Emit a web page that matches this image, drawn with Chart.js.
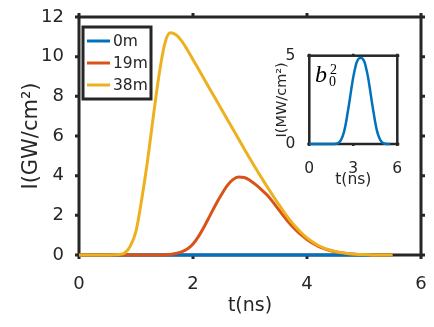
<!DOCTYPE html>
<html>
<head>
<meta charset="utf-8">
<script src="https://cdn.jsdelivr.net/npm/chart.js@4.4.0/dist/chart.umd.min.js"></script>
<style>
  html, body { margin: 0; padding: 0; background: #fff; }
  #wrap { position: relative; width: 434px; height: 327px; }
  #main { position: absolute; left: 0; top: 0; }
  #inset { position: absolute; left: 270px; top: 48px; }
</style>
</head>
<body>
<div id="wrap">
  <canvas id="main" width="434" height="327"></canvas>
  <canvas id="inset" width="140" height="142"></canvas>
</div>
<script>
// time axis, ns (same sampling for every curve)
const times = [0.0, 0.1, 0.2, 0.3, 0.4, 0.5, 0.6, 0.7, 0.8, 0.9,
  1.0, 1.1, 1.2, 1.3, 1.4, 1.5, 1.6, 1.7, 1.8, 1.9,
  2.0, 2.1, 2.2, 2.3, 2.4, 2.5, 2.6, 2.7, 2.8, 2.9,
  3.0, 3.1, 3.2, 3.3, 3.4, 3.5, 3.6, 3.7, 3.8, 3.9,
  4.0, 4.1, 4.2, 4.3, 4.4, 4.5, 4.6, 4.7, 4.8, 4.9,
  5.0, 5.1, 5.2, 5.3, 5.4, 5.5];

const seriesLabels = ['0m', '19m', '38m'];
const seriesColors = ['#0072BD', '#D95319', '#EDB120'];

// I (GW/cm^2)
const at0m = [0, 0, 0, 0, 0, 0, 0, 0, 0, 0,
  0, 0, 0, 0, 0, 0, 0, 0, 0, 0,
  0, 0, 0, 0, 0, 0, 0, 0, 0, 0,
  0, 0, 0, 0, 0, 0, 0, 0, 0, 0,
  0, 0, 0, 0, 0, 0, 0, 0, 0, 0,
  0, 0, 0, 0, 0, 0];
const at19m = [0, 0, 0, 0, 0, 0, 0, 0, 0, 0,
  0, 0, 0, 0, 0, 0.01, 0.03, 0.08, 0.16, 0.3,
  0.55, 0.95, 1.45, 2.0, 2.55, 3.05, 3.5, 3.8, 3.93, 3.91,
  3.76, 3.55, 3.3, 3.02, 2.68, 2.3, 1.93, 1.58, 1.28, 1.01,
  0.78, 0.59, 0.44, 0.32, 0.23, 0.16, 0.11, 0.07, 0.045, 0.03,
  0.02, 0.01, 0, 0, 0, 0];
const at38m = [0, 0, 0, 0, 0, 0, 0.01, 0.03, 0.1, 0.45,
  1.2, 2.8, 4.7, 6.9, 9.0, 10.6, 11.2, 11.1, 10.8, 10.35,
  9.85, 9.35, 8.85, 8.35, 7.85, 7.35, 6.85, 6.35, 5.85, 5.35,
  4.85, 4.37, 3.9, 3.45, 3.0, 2.57, 2.15, 1.76, 1.42, 1.12,
  0.86, 0.65, 0.48, 0.35, 0.25, 0.18, 0.12, 0.08, 0.05, 0.03,
  0.02, 0.01, 0, 0, 0, 0];

// inset: b0^2, I (MW/cm^2)
const b0sq = [0, 0, 0, 0, 0, 0, 0, 0, 0, 0,
  0, 0, 0, 0, 0, 0, 0, 0, 0.01, 0.03,
  0.07, 0.15, 0.3, 0.5, 0.8, 1.2, 1.7, 2.2, 2.75, 3.3,
  3.8, 4.2, 4.55, 4.75, 4.85, 4.87, 4.85, 4.75, 4.55, 4.2,
  3.8, 3.3, 2.75, 2.2, 1.7, 1.2, 0.8, 0.5, 0.3, 0.15,
  0.07, 0.03, 0.01, 0, 0, 0];

const axisColor = '#262626';
const sans = '"DejaVu Sans", sans-serif';

function points(ys) {
  return times.map((t, i) => ({ x: t, y: ys[i] }));
}

// box round the plot area with outward ticks on all four sides
const frame = {
  id: 'frame',
  beforeDatasetsDraw(chart, args, opts) {
    const { ctx, chartArea: a, scales: { x, y } } = chart;
    ctx.save();
    ctx.strokeStyle = axisColor;
    ctx.lineWidth = opts.width;
    ctx.strokeRect(a.left, a.top, a.right - a.left, a.bottom - a.top);
    ctx.beginPath();
    x.ticks.forEach(t => {
      const px = x.getPixelForValue(t.value);
      ctx.moveTo(px, a.bottom); ctx.lineTo(px, a.bottom + opts.len);
      ctx.moveTo(px, a.top); ctx.lineTo(px, a.top - opts.len);
    });
    y.ticks.forEach(t => {
      const py = y.getPixelForValue(t.value);
      ctx.moveTo(a.left, py); ctx.lineTo(a.left - opts.len, py);
      ctx.moveTo(a.right, py); ctx.lineTo(a.right + opts.len, py);
    });
    ctx.stroke();
    ctx.restore();
  }
};

const boxLegend = {
  id: 'boxLegend',
  afterDraw(chart) {
    const { ctx, chartArea: a } = chart;
    const left = a.left + 4, top = a.top + 10, w = 68, h = 72;
    ctx.save();
    ctx.fillStyle = '#fff';
    ctx.fillRect(left, top, w, h);
    ctx.strokeStyle = axisColor;
    ctx.lineWidth = 3;
    ctx.strokeRect(left, top, w, h);
    ctx.font = '15.5px ' + sans;
    ctx.textBaseline = 'middle';
    chart.data.datasets.forEach((ds, i) => {
      const cy = top + 14 + i * 22;
      ctx.strokeStyle = ds.borderColor;
      ctx.lineWidth = 3;
      ctx.beginPath();
      ctx.moveTo(left + 4, cy);
      ctx.lineTo(left + 27, cy);
      ctx.stroke();
      ctx.fillStyle = axisColor;
      ctx.fillText(ds.label, left + 30, cy + 1);
    });
    ctx.restore();
  }
};

// fixed axis boxes so the plot area lands where it is in the figure
function fixX(h) {
  return s => { s.height = h; s.paddingLeft = 0; s.paddingRight = 0; };
}
function fixY(w) {
  return s => { s.width = w; s.paddingTop = 0; s.paddingBottom = 0; };
}

new Chart(document.getElementById('main'), {
  type: 'line',
  data: {
    datasets: [
      { label: seriesLabels[0], data: points(at0m), borderColor: seriesColors[0], order: 2 },
      { label: seriesLabels[1], data: points(at19m), borderColor: seriesColors[1], order: 1 },
      { label: seriesLabels[2], data: points(at38m), borderColor: seriesColors[2], order: 0 }
    ]
  },
  options: {
    responsive: false,
    animation: false,
    events: [],
    layout: { padding: { top: 17, right: 13, left: 0, bottom: 0 } },
    elements: {
      line: { borderWidth: 3, cubicInterpolationMode: 'monotone' },
      point: { radius: 0 }
    },
    datasets: { line: { clip: false } },
    plugins: {
      legend: { display: false },
      tooltip: { enabled: false },
      frame: { width: 3, len: 4 }
    },
    scales: {
      x: {
        type: 'linear', min: 0, max: 6,
        afterFit: fixX(72),
        grid: { display: false },
        border: { display: false },
        ticks: { stepSize: 2, padding: 11, color: axisColor, font: { family: sans, size: 18 } },
        title: { display: true, text: 't(ns)', color: axisColor, padding: { top: 0, bottom: 10 },
                 font: { family: sans, size: 19 } }
      },
      y: {
        min: 0, max: 12,
        afterFit: fixY(79),
        grid: { display: false },
        border: { display: false },
        ticks: { stepSize: 2, padding: 7, color: axisColor, font: { family: sans, size: 18 } },
        title: { display: true, text: 'I(GW/cm²)', color: axisColor, padding: { top: 19, bottom: 0 },
                 font: { family: sans, size: 21 } }
      }
    }
  },
  plugins: [frame, boxLegend]
});

const insetLabel = {
  id: 'insetLabel',
  beforeDatasetsDraw(chart) {
    const { ctx, chartArea: a } = chart;
    ctx.save();
    ctx.fillStyle = '#fff';
    ctx.fillRect(a.left, a.top, a.right - a.left, a.bottom - a.top);
    ctx.restore();
  },
  afterDraw(chart) {
    const { ctx } = chart;
    ctx.save();
    ctx.fillStyle = '#000';
    ctx.textBaseline = 'alphabetic';
    ctx.font = 'italic 24px "Liberation Serif", serif';
    ctx.fillText('b', 45, 34);
    ctx.font = '14px "Liberation Serif", serif';
    ctx.fillText('2', 60, 25.5);
    ctx.fillText('0', 59, 37.5);
    ctx.restore();
  }
};

new Chart(document.getElementById('inset'), {
  type: 'line',
  data: {
    datasets: [{ label: 'b0^2', data: points(b0sq), borderColor: seriesColors[0] }]
  },
  options: {
    responsive: false,
    animation: false,
    events: [],
    layout: { padding: { top: 7.7, right: 12.7, left: 0, bottom: 0 } },
    elements: {
      line: { borderWidth: 2.5, cubicInterpolationMode: 'monotone' },
      point: { radius: 0 }
    },
    datasets: { line: { clip: false } },
    plugins: {
      legend: { display: false },
      tooltip: { enabled: false },
      frame: { width: 2.5, len: 2 }
    },
    scales: {
      x: {
        type: 'linear', min: 0, max: 6,
        afterFit: fixX(46),
        grid: { display: false },
        border: { display: false },
        ticks: { stepSize: 3, padding: 8, color: axisColor, font: { family: sans, size: 15.5 } },
        title: { display: true, text: 't(ns)', color: axisColor, padding: { top: 0, bottom: 1 },
                 font: { family: sans, size: 15.5 } }
      },
      y: {
        min: 0, max: 5,
        afterFit: fixY(39.3),
        grid: { display: false },
        border: { display: false },
        ticks: { stepSize: 5, padding: 6, color: axisColor, font: { family: sans, size: 15.5 } },
        title: { display: true, text: 'I(MW/cm²)', color: axisColor, padding: { top: 4, bottom: 0 },
                 font: { family: sans, size: 14.5 } }
      }
    }
  },
  plugins: [insetLabel, frame]
});
</script>
</body>
</html>
